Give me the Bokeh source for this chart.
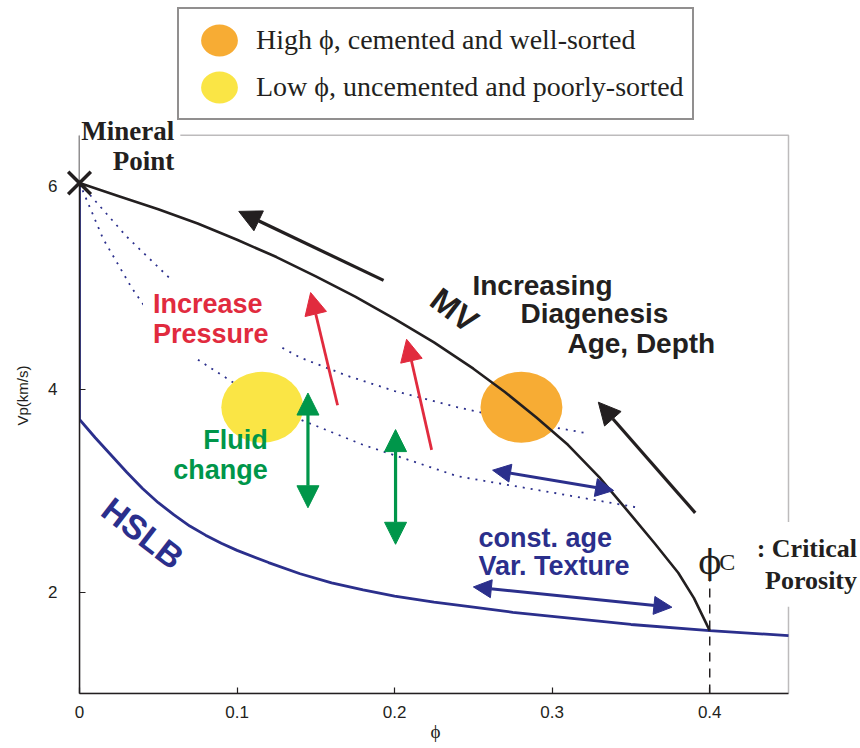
from bokeh.plotting import figure
from bokeh.models import (Range1d, FixedTicker, Label, Arrow, NormalHead, BoxAnnotation,
                          ColumnDataSource, Legend, LegendItem, Title)
from bokeh.embed import file_html
from bokeh.resources import INLINE

# ---- data -------------------------------------------------------------
# mineral end point
mineral_phi = [0.0]
mineral_vp = [6.03]

# modified upper trend (MV)
mv_phi = [0.0, 0.025, 0.05, 0.075, 0.10, 0.125, 0.15, 0.175, 0.20, 0.225, 0.25,
          0.27, 0.29, 0.31, 0.33, 0.35, 0.365, 0.38, 0.39, 0.40]
mv_vp = [6.03, 5.90, 5.77, 5.63, 5.47, 5.30, 5.11, 4.91, 4.69, 4.46, 4.20,
         3.97, 3.72, 3.45, 3.13, 2.76, 2.48, 2.19, 1.94, 1.62]

# Hashin-Shtrikman lower bound (HSLB)
hslb_phi = [0.0, 0.0, 0.01, 0.02, 0.03, 0.04, 0.05, 0.06, 0.07, 0.08, 0.09, 0.10,
            0.12, 0.14, 0.16, 0.18, 0.20, 0.225, 0.25, 0.275, 0.30, 0.35, 0.40, 0.45]
hslb_vp = [6.03, 3.70, 3.52, 3.35, 3.18, 3.02, 2.88, 2.76, 2.65, 2.56, 2.48, 2.41,
           2.29, 2.18, 2.09, 2.02, 1.96, 1.90, 1.85, 1.80, 1.76, 1.68, 1.62, 1.57]

# constant-age sorting trends (dotted)
upper_phi = [0.0, 0.03, 0.06, 0.10, 0.14, 0.17, 0.20, 0.24, 0.28, 0.32]
upper_vp = [6.03, 5.50, 5.05, 4.65, 4.31, 4.13, 3.98, 3.82, 3.68, 3.57]
lower_phi = [0.0, 0.015, 0.033, 0.05, 0.075, 0.10, 0.14, 0.18, 0.215, 0.24, 0.30, 0.355]
lower_vp = [6.03, 5.48, 5.00, 4.62, 4.29, 4.04, 3.70, 3.45, 3.27, 3.14, 2.98, 2.83]

# critical porosity marker
crit_phi = [0.40, 0.40]
crit_vp = [1.0, 2.12]

# texture end members
high_phi, high_vp = [0.2805], [3.82]
low_phi, low_vp = [0.116], [3.82]

# trend arrows
diag_x0, diag_y0 = [0.193, 0.3908], [5.07, 2.78]
diag_x1, diag_y1 = [0.1011, 0.3293], [5.75, 3.87]
press_x0, press_y0 = [0.1638, 0.2235], [3.84, 3.40]
press_x1, press_y1 = [0.1467, 0.2076], [4.95, 4.49]
fluid_x, fluid_y0, fluid_y1 = [0.145, 0.2006], [2.83, 2.47], [3.96, 3.60]
tex_x0, tex_y0 = [0.2622, 0.250], [3.20, 2.05]
tex_x1, tex_y1 = [0.339, 0.376], [3.00, 1.85]

# axes box
phi_min, phi_max = 0.0, 0.45
vp_min, vp_max = 1.0, 6.5
x_ticks = [0, 0.1, 0.2, 0.3, 0.4]
x_tick_labels = ["0", "0.1", "0.2", "0.3", "0.4"]
y_ticks = [2, 4, 6]

# ---- styles -----------------------------------------------------------
BLACK = "#231F20"
BLUE = "#2B2F8C"
RED = "#E12B3E"
GREEN = "#00964A"
ORANGE = "#F7AC34"
YELLOW = "#FAE545"
SANS = "Liberation Sans"
SERIF = "Liberation Serif"

# the drawing area reaches past the axes box so that the legend and the
# critical-porosity note can sit outside of it
p = figure(width=860, height=748, x_range=Range1d(0.0, 0.4957),
           y_range=Range1d(1.0, 7.8276),
           output_backend="svg", toolbar_location=None,
           min_border_left=78, min_border_right=0, min_border_top=0, min_border_bottom=55)
p.outline_line_color = None
p.xgrid.visible = False
p.ygrid.visible = False
p.background_fill_color = "white"
p.border_fill_color = "white"

p.add_layout(BoxAnnotation(left=phi_min, right=phi_max, bottom=vp_min, top=vp_max,
                           fill_color=None, line_color=BLACK, line_width=1.5,
                           level="underlay"))


def style_axis(ax):
    ax.axis_line_color = BLACK
    ax.axis_line_width = 1.5
    ax.major_tick_line_color = BLACK
    ax.major_tick_line_width = 1.2
    ax.major_tick_in = 6
    ax.major_tick_out = 0
    ax.minor_tick_line_color = None
    ax.major_label_text_font = SANS
    ax.major_label_text_font_size = "17px"
    ax.major_label_text_color = BLACK


xa = p.xaxis[0]
xa.ticker = FixedTicker(ticks=x_ticks)
xa.major_label_overrides = dict(zip(x_ticks, x_tick_labels))
xa.bounds = (phi_min, phi_max)
style_axis(xa)
xa.major_label_standoff = 12

ya = p.yaxis[0]
ya.ticker = FixedTicker(ticks=y_ticks)
ya.bounds = (vp_min, vp_max)
style_axis(ya)
ya.major_label_standoff = 22

# axis titles, centred on the axes box rather than on the whole drawing area
p.add_layout(Title(text="ϕ", align="left", offset=351, vertical_align="top", standoff=0,
                   text_font=SERIF, text_font_size="19px", text_font_style="normal",
                   text_color=BLACK), "below")
p.add_layout(Title(text="Vp(km/s)", align="left", offset=268, standoff=26,
                   vertical_align="top",
                   text_font=SANS, text_font_size="15px", text_font_style="normal",
                   text_color=BLACK), "left")

# ---- curves -----------------------------------------------------------
p.line(upper_phi, upper_vp, line_color=BLUE, line_width=1.8, line_dash="2 6")
p.line(lower_phi, lower_vp, line_color=BLUE, line_width=1.8, line_dash="2 6")

orange_r = p.ellipse(high_phi, high_vp, width=0.052, height=0.70,
                     fill_color=ORANGE, line_color=None)
yellow_r = p.ellipse(low_phi, low_vp, width=0.052, height=0.70,
                     fill_color=YELLOW, line_color=None)

p.line(hslb_phi, hslb_vp, line_color=BLUE, line_width=2.8)
p.line(mv_phi, mv_vp, line_color=BLACK, line_width=2.6)
p.line(crit_phi, crit_vp, line_color=BLACK, line_width=1.5, line_dash="9 7")

xr = p.scatter(mineral_phi, mineral_vp, marker="x", size=32, line_width=3.5, line_color=BLACK)
xr.level = "overlay"

# ---- arrows -----------------------------------------------------------
def add_arrows(x0, y0, x1, y1, color, width, size, double=False):
    src = ColumnDataSource(dict(x0=x0, y0=y0, x1=x1, y1=y1))
    end = NormalHead(size=size, fill_color=color, line_color=color)
    start = NormalHead(size=size, fill_color=color, line_color=color) if double else None
    p.add_layout(Arrow(source=src, x_start="x0", y_start="y0", x_end="x1", y_end="y1",
                       line_color=color, line_width=width, end=end, start=start))


add_arrows(diag_x0, diag_y0, diag_x1, diag_y1, BLACK, 3.2, 22)
add_arrows(press_x0, press_y0, press_x1, press_y1, RED, 2.8, 22)
add_arrows(fluid_x, fluid_y0, fluid_x, fluid_y1, GREEN, 3.2, 22, double=True)
add_arrows(tex_x0, tex_y0, tex_x1, tex_y1, BLUE, 3.0, 18, double=True)

# ---- text -------------------------------------------------------------
def add_label(text, x, y, color, font, size, align="left", baseline="alphabetic",
              style="bold", angle=0.0, bg=None, pad=0, lh=1.2):
    lab = Label(x=x, y=y, text=text, text_color=color, text_font=font,
                text_font_size=size, text_font_style=style, text_align=align,
                text_baseline=baseline, angle=angle, text_line_height=lh)
    if bg is not None:
        lab.background_fill_color = bg
        lab.padding = pad
    p.add_layout(lab)


add_label("Mineral\nPoint", 0.064, 6.748, BLACK, SERIF, "27px", align="right",
          baseline="top", bg="white", pad=6, lh=1.0)
add_label("Increase\nPressure", 0.0403, 5.084, RED, SANS, "27px", baseline="top",
          bg="white", pad=10, lh=1.0)
add_label("Fluid\nchange", 0.1195, 3.645, GREEN, SANS, "27px", align="right",
          baseline="top", lh=1.0)
add_label("const. age\nVar. Texture", 0.2532, 2.68, BLUE, SANS, "27px",
          baseline="top", lh=0.95)
add_label("Increasing", 0.2494, 5.015, BLACK, SANS, "28px")
add_label("Diagenesis", 0.2799, 4.739, BLACK, SANS, "28px")
add_label("Age, Depth", 0.3097, 4.453, BLACK, SANS, "28px")
add_label("MV", 0.238, 4.778, BLACK, SANS, "33px", align="center", baseline="middle",
          angle=-0.65)
add_label("HSLB", 0.0403, 2.58, BLUE, SANS, "34px", align="center", baseline="middle",
          angle=-0.66)
add_label("ϕ", 0.40, 2.296, BLACK, "DejaVu Serif", "34px", align="center", style="normal")
add_label("C", 0.406, 2.296, BLACK, SERIF, "24px", style="normal")
add_label(": Critical\nPorosity", 0.5011, 2.69, BLACK, SERIF, "26px", align="right",
          baseline="top", bg="white", pad=12, lh=1.1)

# ---- legend, above the axes box ----------------------------------------
legend = Legend(items=[
    LegendItem(label="High ϕ, cemented and well-sorted", renderers=[orange_r]),
    LegendItem(label="Low ϕ, uncemented and poorly-sorted", renderers=[yellow_r]),
], location=(98, 573), orientation="vertical")
legend.label_text_font = SERIF
legend.label_text_font_size = "28px"
legend.label_text_color = BLACK
legend.border_line_color = BLACK
legend.border_line_width = 2
legend.background_fill_color = "white"
legend.background_fill_alpha = 1.0
legend.glyph_width = 64
legend.glyph_height = 46
legend.label_height = 46
legend.spacing = 1
legend.padding = 8
legend.margin = 0
legend.label_standoff = 5
p.add_layout(legend)

open("out.html", "w").write(file_html(p, INLINE))
